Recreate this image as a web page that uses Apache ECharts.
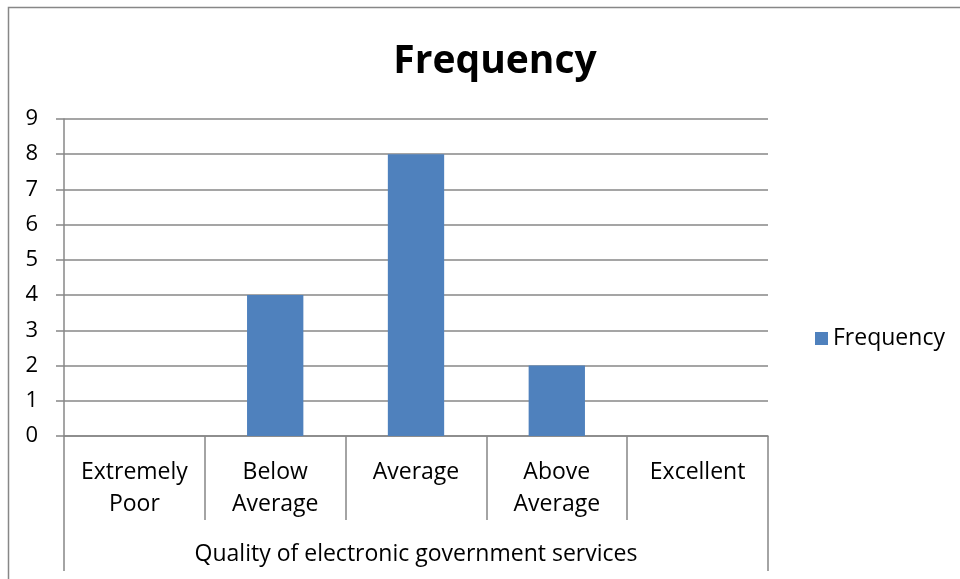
<!DOCTYPE html>
<html>
<head>
<meta charset="utf-8">
<script src="https://cdn.jsdelivr.net/npm/echarts@6/dist/echarts.min.js"></script>
<style>
  html, body { margin: 0; padding: 0; background: #fff; }
  #chart { width: 960px; height: 579px; }
</style>
</head>
<body>
<div id="chart"></div>
<script>
// Survey ratings and how many respondents chose each one
const categories = ['Extremely\nPoor', 'Below\nAverage', 'Average', 'Above\nAverage', 'Excellent'];
const frequency = [0, 4, 8, 2, 0];
const groupLabel = ['Quality of electronic government services'];
const seriesName = 'Frequency';

const FONT = '"Open Sans", "Liberation Sans", sans-serif';
const GRAY = '#878787';

const chart = echarts.init(document.getElementById('chart'), null, { renderer: 'canvas' });

chart.setOption({
  backgroundColor: '#ffffff',
  animation: false,
  title: {
    text: 'Frequency',
    left: 490,
    textAlign: 'center',
    top: 37,
    textStyle: { fontFamily: FONT, fontSize: 39, fontWeight: 'bold', color: '#000' }
  },
  legend: {
    data: [seriesName],
    orient: 'vertical',
    left: 810,
    top: 322,
    itemWidth: 13,
    itemHeight: 13,
    itemGap: 8,
    icon: 'rect',
    textStyle: { fontFamily: FONT, fontSize: 23, color: '#000' }
  },
  graphic: [{
    // chart frame
    type: 'rect',
    shape: { x: 8.5, y: 7.5, width: 1200, height: 1200 },
    style: { fill: 'none', stroke: GRAY, lineWidth: 1.5 },
    silent: true,
    z: -10
  }],
  grid: { left: 64, right: 192, top: 119, bottom: 143 },
  xAxis: [{
    type: 'category',
    data: categories,
    position: 'bottom',
    axisLine: { show: true, lineStyle: { color: GRAY, width: 1.5 } },
    axisTick: { show: true, length: 84, interval: 0, lineStyle: { color: GRAY, width: 1.5 } },
    axisLabel: {
      interval: 0, margin: 20, lineHeight: 32,
      fontFamily: FONT, fontSize: 23, color: '#000'
    }
  }, {
    type: 'category',
    data: groupLabel,
    position: 'bottom',
    offset: 84,
    axisLine: { show: false },
    axisTick: { show: true, length: 51, lineStyle: { color: GRAY, width: 1.5 } },
    axisLabel: {
      margin: 18, lineHeight: 32,
      fontFamily: FONT, fontSize: 23, color: '#000'
    }
  }],
  yAxis: {
    type: 'value',
    min: 0,
    max: 9,
    interval: 1,
    axisLine: { show: true, lineStyle: { color: GRAY, width: 1.5 } },
    axisTick: { show: true, length: 8, lineStyle: { color: GRAY, width: 1.5 } },
    axisLabel: { margin: 26, padding: [4, 0, 0, 0], fontFamily: FONT, fontSize: 22, color: '#000' },
    splitLine: { show: true, lineStyle: { color: GRAY, width: 1.5 } }
  },
  series: [{
    name: seriesName,
    type: 'bar',
    xAxisIndex: 0,
    data: frequency,
    barCategoryGap: '60%',
    itemStyle: { color: '#4F81BD' }
  }]
});
</script>
</body>
</html>
